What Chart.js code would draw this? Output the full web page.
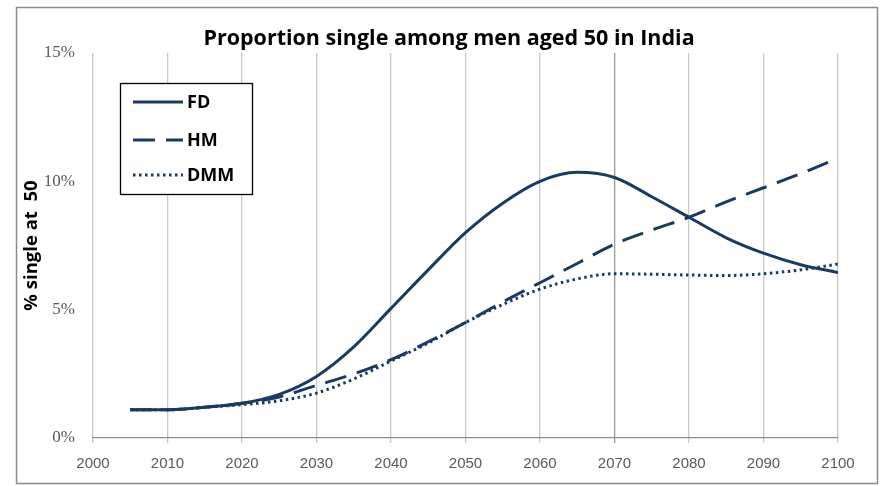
<!DOCTYPE html>
<html>
<head>
<meta charset="utf-8">
<script src="https://cdn.jsdelivr.net/npm/chart.js@4.4.0/dist/chart.umd.min.js"></script>
<style>
  html, body { margin: 0; padding: 0; background: #ffffff; }
  #wrap { position: relative; width: 890px; height: 486px; }
</style>
</head>
<body>
<div id="wrap"><canvas id="chart" width="890" height="486"></canvas></div>
<script>
// Data (percent single at age 50)
const years = [2005, 2010, 2015, 2020, 2025, 2030, 2035, 2040, 2045, 2050,
               2055, 2060, 2065, 2070, 2075, 2080, 2085, 2090, 2095, 2100];
const fdValues  = [1.1, 1.1, 1.2, 1.35, 1.7, 2.4, 3.55, 5.05, 6.55, 8.0,
                   9.15, 10.0, 10.35, 10.15, 9.4, 8.6, 7.8, 7.2, 6.75, 6.45];
const hmValues  = [1.1, 1.1, 1.2, 1.35, 1.6, 2.05, 2.5, 3.05, 3.75, 4.5,
                   5.3, 6.05, 6.8, 7.55, 8.1, 8.6, 9.2, 9.75, 10.3, 10.9];
const dmmValues = [1.1, 1.1, 1.2, 1.3, 1.45, 1.75, 2.3, 3.0, 3.7, 4.5,
                   5.2, 5.8, 6.2, 6.4, 6.38, 6.35, 6.33, 6.4, 6.55, 6.78];
const seriesNames = ['FD', 'HM', 'DMM'];
const xTicks = [2000, 2010, 2020, 2030, 2040, 2050, 2060, 2070, 2080, 2090, 2100];
const yTicks = [0, 5, 10, 15];

const NAVY = '#1b3a63';
const dashes = [[], [22, 11], [2.5, 3.5]];

function toPoints(values) {
  return values.map((v, i) => ({ x: years[i], y: v }));
}

// Frame, title and legend box drawn on top of the chart
const decorPlugin = {
  id: 'decor',
  afterDraw(chart) {
    const ctx = chart.ctx;
    ctx.save();

    // outer border
    ctx.strokeStyle = '#8c8c8c';
    ctx.lineWidth = 1.5;
    ctx.strokeRect(16.5, 7.5, 861, 476);

    // title
    ctx.fillStyle = '#000000';
    ctx.font = 'bold 21.5px "Open Sans"';
    ctx.textAlign = 'center';
    ctx.textBaseline = 'alphabetic';
    ctx.fillText('Proportion single among men aged 50 in India', 449, 45);

    // legend
    ctx.fillStyle = '#ffffff';
    ctx.fillRect(120, 83, 133, 112);
    ctx.strokeStyle = '#000000';
    ctx.lineWidth = 1.3;
    ctx.strokeRect(120.5, 83.5, 132, 111);

    const rowY = [102, 140, 175];
    ctx.font = 'bold 18px "Open Sans"';
    ctx.textAlign = 'left';
    ctx.textBaseline = 'middle';
    chart.data.datasets.forEach((ds, i) => {
      ctx.strokeStyle = ds.borderColor;
      ctx.lineWidth = ds.borderWidth;
      ctx.setLineDash(ds.borderDash || []);
      ctx.beginPath();
      ctx.moveTo(133, rowY[i]);
      ctx.lineTo(183, rowY[i]);
      ctx.stroke();
      ctx.setLineDash([]);
      ctx.fillStyle = '#000000';
      ctx.fillText(ds.label, 187, rowY[i] + 1);
    });
    ctx.restore();
  }
};

new Chart(document.getElementById('chart'), {
  type: 'line',
  data: {
    datasets: [fdValues, hmValues, dmmValues].map((vals, i) => ({
      label: seriesNames[i],
      data: toPoints(vals),
      borderColor: NAVY,
      borderWidth: 3,
      borderDash: dashes[i],
      pointRadius: 0,
      fill: false,
      cubicInterpolationMode: 'monotone'
    }))
  },
  options: {
    responsive: false,
    animation: false,
    layout: { padding: { left: 0, right: 52, top: 53, bottom: 0 } },
    plugins: {
      legend: { display: false },
      title: { display: false },
      tooltip: { enabled: false }
    },
    scales: {
      x: {
        type: 'linear',
        min: 2000,
        max: 2100,
        afterBuildTicks(scale) {
          scale.ticks = xTicks.map(v => ({ value: v }));
        },
        afterFit(scale) { scale.height = 48; },
        grid: {
          color: ctx => (ctx.tick && ctx.tick.value === 2070) ? '#9a9a9a' : '#c8c8c8',
          lineWidth: 1.3,
          tickLength: 5,
          drawTicks: true
        },
        border: { display: true, color: '#8c8c8c', width: 1.3 },
        ticks: {
          color: '#595959',
          font: { family: 'Liberation Sans', size: 15 },
          padding: 12,
          maxRotation: 0,
          callback: v => String(v)
        }
      },
      y: {
        min: 0,
        max: 15,
        afterBuildTicks(scale) {
          scale.ticks = yTicks.map(v => ({ value: v }));
        },
        afterFit(scale) { scale.width = 93; },
        grid: { display: false },
        border: { display: false },
        ticks: {
          color: '#595959',
          font: { family: 'Liberation Serif', size: 17 },
          padding: 10,
          callback: v => v + '%'
        },
        title: {
          display: true,
          text: '% single at  50',
          color: '#000000',
          font: { family: 'Open Sans', size: 18.5, weight: 'bold' },
          padding: { top: 21, bottom: 0 }
        }
      }
    }
  },
  plugins: [decorPlugin]
});
</script>
</body>
</html>
